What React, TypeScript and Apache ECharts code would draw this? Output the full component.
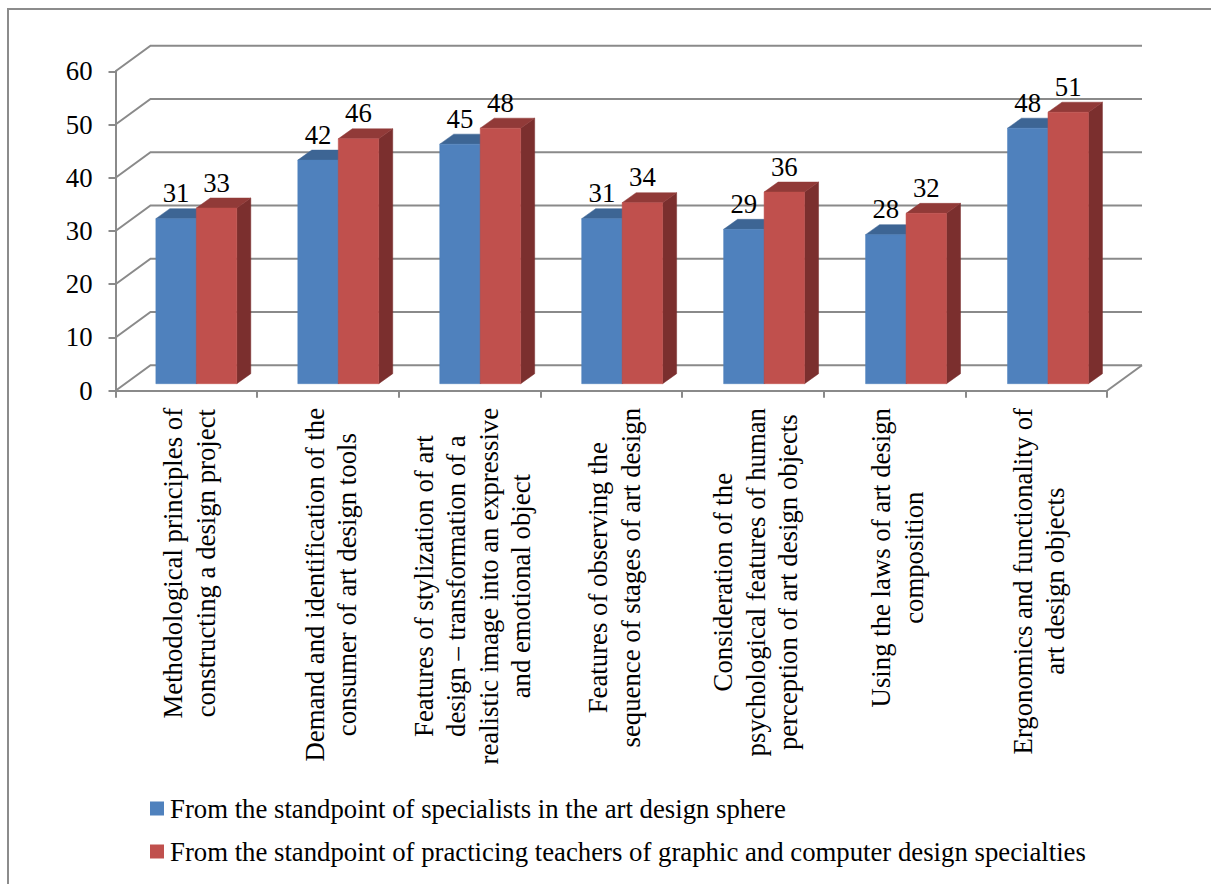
import React, { useEffect, useRef } from "react";
import * as echarts from "echarts";

const categories = [
  ["Methodological principles of", "constructing a design project"],
  ["Demand and identification of the", "consumer of art design tools"],
  ["Features of stylization of art", "design – transformation of a", "realistic image into an expressive", "and emotional object"],
  ["Features of observing the", "sequence of stages of art design"],
  ["Consideration of the", "psychological features of human", "perception of art design objects"],
  ["Using the laws of art design", "composition"],
  ["Ergonomics and functionality of", "art design objects"],
];
const specialists = [31, 42, 45, 31, 29, 28, 48];
const teachers = [33, 46, 48, 34, 36, 32, 51];
const yTicks = [0, 10, 20, 30, 40, 50, 60];
const seriesNames = [
  "From the standpoint of specialists in the art design sphere",
  "From the standpoint of practicing teachers of graphic and computer design specialties",
];

const FONT = "'Liberation Serif'";
const TEXT_SIZE = 26.75;
const GRID = "#8a8a8a";
const BLUE = { face: "#4F81BD", top: "#3D6594", side: "#2F4F75" };
const RED = { face: "#C0504D", top: "#913A38", side: "#7B2F2E" };

function measure(text: string, size: number) {
  const c = document.createElement("canvas").getContext("2d")!;
  c.font = `${size}px ${FONT}`;
  return c.measureText(text).width;
}

function barRenderer(seriesIndex: number, colors: typeof BLUE) {
  return (_p: any, api: any) => {
    const cat = api.value(0);
    const val = api.value(1);
    const catW = api.size([1, 0])[0];
    const barW = catW / 3.5;
    const [cx, y0] = api.coord([cat, 0]);
    const yv = api.coord([cat, val])[1];
    const fx = 10 + 0.3 * cat, fy = 7, dx = 14, dy = 10;
    const x0 = cx + fx - barW + seriesIndex * barW;
    const x1 = x0 + barW;
    const b = y0 - fy;
    const t = yv - fy;
    const poly = (points: number[][], fill: string) => ({
      type: "polygon",
      shape: { points },
      style: { fill, stroke: fill, lineWidth: 0.5 },
    });
    return {
      type: "group",
      children: [
        poly([[x1, b], [x1 + dx, b - dy], [x1 + dx, t - dy], [x1, t]], colors.side),
        poly([[x0, t], [x0 + dx, t - dy], [x1 + dx, t - dy], [x1, t]], colors.top),
        poly([[x0, t], [x1, t], [x1, b], [x0, b]], colors.face),
        {
          type: "text",
          x: (x0 + x1) / 2,
          y: t - 12,
          style: {
            text: String(val),
            fill: "#000",
            font: `${TEXT_SIZE}px ${FONT}`,
            align: "center",
            verticalAlign: "bottom",
          },
        },
      ],
    };
  };
}

export default function App() {
  const ref = useRef<HTMLDivElement>(null);
  useEffect(() => {
    const chart = echarts.init(ref.current!, undefined, { renderer: "svg" });
    const rich: Record<string, any> = {};
    categories.forEach((lines, i) => {
      rich["c" + i] = {
        width: Math.ceil(Math.max(...lines.map((l) => measure(l, TEXT_SIZE)))),
        align: "center",
        fontSize: TEXT_SIZE,
        fontFamily: FONT,
        color: "#000",
        lineHeight: 32.5,
      };
    });
    chart.setOption({
      animation: false,
      backgroundColor: "#fff",
      textStyle: { fontFamily: FONT, color: "#000" },
      grid: { left: 115.5, top: 71.3, width: 991.5, height: 319.4 },
      legend: {
        data: seriesNames,
        orient: "vertical",
        left: 150,
        top: 795,
        padding: 0,
        itemWidth: 14,
        itemHeight: 14,
        itemGap: 16,
        icon: "rect",
        selectedMode: false,
        textStyle: { fontFamily: FONT, fontSize: TEXT_SIZE, color: "#000", padding: [0, 0, 0, 1] },
      },
      graphic: [
        {
          type: "polyline",
          silent: true,
          shape: { points: [[8, 884], [8, 9], [1211, 9]] },
          style: { stroke: "#8c8c8c", lineWidth: 2, fill: "none" },
        },
      ],
      xAxis: {
        type: "category",
        data: categories.map((c) => c.join(" ")),
        axisLine: { show: true, lineStyle: { color: GRID, width: 2 } },
        axisTick: { show: true, alignWithLabel: false, length: 7, lineStyle: { color: GRID, width: 2 } },
        axisLabel: {
          interval: 0,
          rotate: 90,
          margin: 17,
          hideOverlap: false,
          padding: [6, 0, 0, 0],
          formatter: (_v: string, i: number) => categories[i].map((l) => `{c${i}|${l}}`).join("\n"),
          rich,
        },
      },
      yAxis: {
        type: "value",
        min: 0,
        max: 60,
        interval: 10,
        axisLine: { show: true, lineStyle: { color: GRID, width: 2 } },
        axisTick: { show: true, length: 7, lineStyle: { color: GRID, width: 2 } },
        splitLine: { show: false },
        axisLabel: { margin: 23, fontSize: TEXT_SIZE, fontFamily: FONT, color: "#000", padding: [4, 0, 0, 0] },
      },
      series: [
        {
          type: "custom",
          name: "wall",
          silent: true,
          clip: false,
          z: 1,
          data: yTicks.map((v) => [0, v]),
          encode: { x: 0, y: 1 },
          renderItem: (p: any, api: any) => {
            const y = api.coord([0, api.value(1)])[1];
            const g = p.coordSys;
            const children: any[] = [
              {
                type: "polyline",
                shape: { points: [[g.x, y], [g.x + 35, y - 25.5], [g.x + g.width + 35, y - 25.5]] },
                style: { stroke: GRID, lineWidth: 2, fill: "none" },
              },
            ];
            if (api.value(1) === 0) {
              children.push({
                type: "line",
                shape: { x1: g.x + g.width, y1: y, x2: g.x + g.width + 35, y2: y - 25.5 },
                style: { stroke: GRID, lineWidth: 2 },
              });
            }
            return { type: "group", children };
          },
        },
        {
          type: "custom",
          name: seriesNames[0],
          clip: false,
          z: 2,
          itemStyle: { color: BLUE.face },
          data: specialists.map((v, i) => [i, v]),
          encode: { x: 0, y: 1 },
          renderItem: barRenderer(0, BLUE),
        },
        {
          type: "custom",
          name: seriesNames[1],
          clip: false,
          z: 3,
          itemStyle: { color: RED.face },
          data: teachers.map((v, i) => [i, v]),
          encode: { x: 0, y: 1 },
          renderItem: barRenderer(1, RED),
        },
      ],
    });
    return () => chart.dispose();
  }, []);
  return <div ref={ref} style={{ position: "absolute", left: 0, top: 0, width: 1211, height: 884 }} />;
}
